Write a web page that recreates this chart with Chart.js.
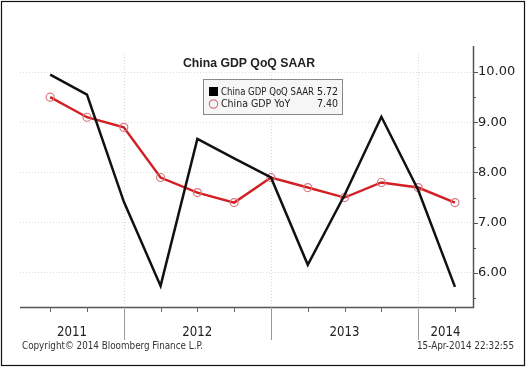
<!DOCTYPE html>
<html>
<head>
<meta charset="utf-8">
<script src="https://cdn.jsdelivr.net/npm/chart.js@4.4.1/dist/chart.umd.min.js"></script>
<style>
  html, body { margin: 0; padding: 0; background: #fff; }
  canvas { display: block; }
</style>
</head>
<body>
<canvas id="gdpChart" width="526" height="367"></canvas>
<script>
// quarters shown on the chart
const quarters = ["2011Q2", "2011Q3", "2011Q4", "2012Q1", "2012Q2", "2012Q3",
                  "2012Q4", "2013Q1", "2013Q2", "2013Q3", "2013Q4", "2014Q1"];
const years = ["2011", "2012", "2013", "2014"];

// China GDP QoQ SAAR
const qoqSaar = [9.95, 9.55, 7.42, 5.74, 8.67, 8.28, 7.90, 6.16, 7.55, 9.11, 7.65, 5.72];
// China GDP YoY
const yoy = [9.5, 9.1, 8.9, 7.9, 7.6, 7.4, 7.9, 7.7, 7.5, 7.8, 7.7, 7.4];

const yTicks = [6, 7, 8, 9, 10];

const toPoints = arr => arr.map((v, i) => ({ x: i, y: v }));

// extra drawing: axes, year bands, title, legend box, footer
const bbgPlugin = {
  id: "bbg",
  beforeDraw(chart) {
    const ctx = chart.ctx;
    ctx.save();
    ctx.fillStyle = "#fff";
    ctx.fillRect(0, 0, chart.width, chart.height);
    ctx.restore();
  },
  beforeDatasetsDraw(chart) {
    const { ctx, chartArea, scales } = chart;
    ctx.save();
    ctx.strokeStyle = "#d8d8d8";
    ctx.lineWidth = 1;
    ctx.setLineDash([1, 2]);
    quarters.forEach((q, i) => {
      if (q.endsWith("Q4")) {
        const x = Math.round(scales.x.getPixelForValue(i)) + 0.5;
        ctx.beginPath();
        ctx.moveTo(x, chartArea.top);
        ctx.lineTo(x, chartArea.bottom);
        ctx.stroke();
      }
    });
    ctx.restore();
  },
  afterDraw(chart) {
    const { ctx, chartArea, scales } = chart;
    const xs = scales.x, ys = scales.y;
    const L = chartArea.left, R = chartArea.right, T = chartArea.top, B = chartArea.bottom;
    ctx.save();

    // axis lines
    ctx.strokeStyle = "#555";
    ctx.lineWidth = 1.5;
    ctx.beginPath();
    ctx.moveTo(L, B + 0.5);
    ctx.lineTo(R + 0.5, B + 0.5);
    ctx.lineTo(R + 0.5, T - 8);
    ctx.stroke();

    // right axis ticks, majors and halves
    ctx.lineWidth = 1;
    for (let v = 5.5; v <= 10.3; v += 0.5) {
      const y = Math.round(ys.getPixelForValue(v)) + 0.5;
      const len = Number.isInteger(v) ? 5 : 3;
      ctx.beginPath();
      ctx.moveTo(R, y);
      ctx.lineTo(R + len, y);
      ctx.stroke();
    }

    // quarter ticks under the x axis
    ctx.strokeStyle = "#666";
    quarters.forEach((q, i) => {
      const x = Math.round(xs.getPixelForValue(i)) + 0.5;
      ctx.beginPath();
      ctx.moveTo(x, B);
      ctx.lineTo(x, B + 5);
      ctx.stroke();
    });

    // year separators and labels
    const bounds = [L];
    quarters.forEach((q, i) => {
      if (q.endsWith("Q4")) bounds.push(xs.getPixelForValue(i));
    });
    bounds.push(R);
    ctx.strokeStyle = "#999";
    bounds.slice(1, -1).forEach(b => {
      const x = Math.round(b) + 0.5;
      ctx.beginPath();
      ctx.moveTo(x, B);
      ctx.lineTo(x, B + 33);
      ctx.stroke();
    });
    ctx.fillStyle = "#222";
    ctx.font = "14px 'DejaVu Sans Condensed', 'DejaVu Sans'";
    ctx.textAlign = "center";
    ctx.textBaseline = "middle";
    years.forEach((yr, k) => {
      ctx.fillText(yr, (bounds[k] + bounds[k + 1]) / 2, B + 25, 30);
    });

    // title
    ctx.font = "bold 12.5px 'Liberation Sans'";
    ctx.fillStyle = "#222";
    ctx.fillText("China GDP QoQ SAAR", 249, 64, 132);

    // legend box
    const bx = 203.5, by = 79.5, bw = 139, bh = 35;
    ctx.fillStyle = "#f6f6f6";
    ctx.fillRect(bx, by, bw, bh);
    ctx.strokeStyle = "#888";
    ctx.strokeRect(bx, by, bw, bh);
    ctx.fillStyle = "#000";
    ctx.fillRect(209, 87, 9, 9);
    ctx.strokeStyle = "#d47a80";
    ctx.lineWidth = 1.2;
    ctx.beginPath();
    ctx.arc(213.5, 104, 4.2, 0, Math.PI * 2);
    ctx.stroke();
    ctx.font = "10.5px 'DejaVu Sans Condensed', 'Liberation Sans'";
    ctx.fillStyle = "#222";
    ctx.textAlign = "left";
    ctx.fillText("China GDP QoQ SAAR", 221, 92, 93);
    ctx.fillText("China GDP YoY", 221, 104.5, 72);
    ctx.textAlign = "right";
    ctx.fillText(qoqSaar[qoqSaar.length - 1].toFixed(2), 338, 92, 21);
    ctx.fillText(yoy[yoy.length - 1].toFixed(2), 338, 104.5, 21);

    // footer
    ctx.font = "10px 'DejaVu Sans Condensed', 'Liberation Sans'";
    ctx.fillStyle = "#333";
    ctx.textAlign = "left";
    ctx.fillText("Copyright\u00a9 2014 Bloomberg Finance L.P.", 22, 346, 181);
    ctx.textAlign = "right";
    ctx.fillText("15-Apr-2014 22:32:55", 514, 346, 97);

    // outer frame
    ctx.strokeStyle = "#111";
    ctx.lineWidth = 1.2;
    ctx.strokeRect(1.5, 1.5, chart.width - 3, chart.height - 3);
    ctx.restore();
  }
};

const chart = new Chart(document.getElementById("gdpChart").getContext("2d"), {
  type: "line",
  data: {
    labels: quarters,
    datasets: [
      {
        label: "China GDP QoQ SAAR",
        data: toPoints(qoqSaar),
        borderColor: "#111",
        borderWidth: 2.5,
        pointRadius: 0,
        tension: 0
      },
      {
        label: "China GDP YoY",
        data: toPoints(yoy),
        borderColor: "#d11f24",
        borderWidth: 2.4,
        pointRadius: 4,
        pointBorderColor: "#d47a80",
        pointBorderWidth: 1.2,
        pointBackgroundColor: "rgba(0,0,0,0)",
        tension: 0
      }
    ]
  },
  options: {
    responsive: false,
    animation: false,
    devicePixelRatio: 1,
    layout: { padding: { left: 20, top: 54, right: 0, bottom: 60 } },
    plugins: {
      legend: { display: false },
      title: { display: false },
      tooltip: { enabled: false }
    },
    scales: {
      x: {
        type: "linear",
        min: -0.82,
        max: 11.49,
        display: false
      },
      y: {
        position: "right",
        min: 5.32,
        max: 10.36,
        afterFit(scale) { scale.width = 53; },
        afterBuildTicks(scale) { scale.ticks = yTicks.map(v => ({ value: v })); },
        ticks: {
          includeBounds: false,
          padding: 5,
          color: "#222",
          font: { family: "'DejaVu Sans'", size: 13 },
          callback: v => Number(v).toFixed(2)
        },
        grid: { color: "#dcdcdc", drawTicks: false },
        border: { display: false, dash: [1, 2] }
      }
    }
  },
  plugins: [bbgPlugin]
});
</script>
</body>
</html>
